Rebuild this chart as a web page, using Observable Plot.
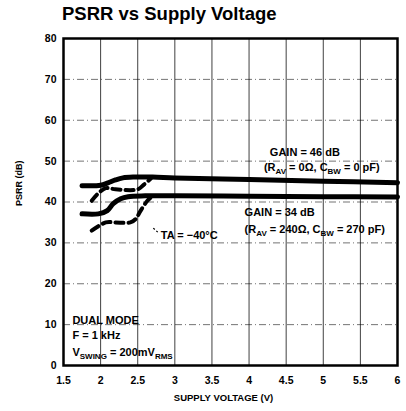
<!DOCTYPE html>
<html>
<head>
<meta charset="utf-8">
<script src="https://cdn.jsdelivr.net/npm/d3@7"></script>
<script src="https://cdn.jsdelivr.net/npm/@observablehq/plot@0.6"></script>
<style>
  html, body { margin: 0; padding: 0; background: #fff; }
  #wrap { position: relative; width: 406px; height: 411px; overflow: hidden; }
  #title { height: 28px; font-family: "Liberation Sans", Arial, sans-serif; font-weight: bold;
           font-size: 18.5px; line-height: 28px; padding-left: 62px; color: #000; }
  svg { display: block; }
</style>
</head>
<body>
<div id="wrap">
  <div id="title">PSRR vs Supply Voltage</div>
  <div id="chart"></div>
</div>
<script>
// ---- data ----
const xTicks = [1.5, 2, 2.5, 3, 3.5, 4, 4.5, 5, 5.5, 6];
const xTickLabels = ["1.5", "2", "2.5", "3", "3.5", "4", "4.5", "5", "5.5", "6"];
const yTicks = [0, 10, 20, 30, 40, 50, 60, 70, 80];

// GAIN = 46 dB, room temperature (solid)
const gain46V   = [1.75, 2.0, 2.1, 2.2, 2.3, 2.45, 2.7, 3.0, 4.0, 5.0, 6.0];
const gain46dB  = [44.0, 44.1, 44.7, 45.4, 45.9, 46.1, 46.1, 45.9, 45.5, 45.1, 44.7];
// GAIN = 34 dB, room temperature (solid)
const gain34V   = [1.75, 1.97, 2.09, 2.17, 2.27, 2.37, 2.6, 3.0, 4.0, 5.0, 6.0];
const gain34dB  = [37.1, 37.1, 37.9, 39.6, 40.8, 41.3, 41.5, 41.5, 41.4, 41.3, 41.2];
// GAIN = 46 dB, TA = -40°C (dashed)
const cold46V   = [1.88, 1.98, 2.07, 2.2, 2.5, 2.58, 2.68];
const cold46dB  = [40.3, 42.3, 43.4, 43.1, 43.1, 44.2, 45.8];
// GAIN = 34 dB, TA = -40°C (dashed)
const cold34V   = [1.88, 2.07, 2.2, 2.4, 2.47, 2.54, 2.63, 2.7];
const cold34dB  = [33.0, 35.0, 35.0, 35.0, 35.8, 37.9, 40.3, 41.4];

// annotations
const noteText = ["GAIN = 46 dB", "(R_{AV} = 0Ω, C_{BW} = 0 pF)", "GAIN = 34 dB",
                  "(R_{AV} = 240Ω, C_{BW} = 270 pF)", "TA = −40°C",
                  "DUAL MODE", "F = 1 kHz", "V_{SWING} = 200mV_{RMS}"];
const noteX = [4.28, 4.2, 3.94, 3.94, 2.81, 1.62, 1.62, 1.62];
const noteY = [52.1, 48.4, 37.4, 33.3, 31.8, 11.0, 7.3, 3.2];
const leaderX = [2.71, 2.79];
const leaderY = [33.6, 32.3];

// ---- build tables ----
const solid = [
  ...gain46V.map((v, i) => ({s: "g46", v, db: gain46dB[i]})),
  ...gain34V.map((v, i) => ({s: "g34", v, db: gain34dB[i]}))
];
const dashed = [
  ...cold46V.map((v, i) => ({s: "c46", v, db: cold46dB[i]})),
  ...cold34V.map((v, i) => ({s: "c34", v, db: cold34dB[i]}))
];
const notes = noteText.map((t, i) => ({t, x: noteX[i], y: noteY[i]}));
const leader = [{x1: leaderX[0], y1: leaderY[0], x2: leaderX[1], y2: leaderY[1]}];

const font = "'Liberation Sans', Arial, sans-serif";

const chart = Plot.plot({
  width: 406,
  height: 383,
  marginTop: 10,
  marginLeft: 63,
  marginRight: 9,
  marginBottom: 46,
  style: {fontFamily: font, fontSize: "10.5px", color: "#000", background: "#fff"},
  x: {domain: [1.5, 6]},
  y: {domain: [0, 80]},
  marks: [
    Plot.gridX(xTicks.slice(1, -1), {stroke: "#000", strokeOpacity: 0.75, strokeWidth: 1}),
    Plot.gridY(yTicks.slice(1, -1), {stroke: "#000", strokeOpacity: 0.55, strokeWidth: 1, strokeDasharray: "7,3,1,3"}),
    Plot.axisX(xTicks, {tickFormat: (d, i) => xTickLabels[i], tickSize: 0, tickPadding: 11,
                        fontWeight: "bold", fontSize: 10.5, label: null}),
    Plot.axisY(yTicks, {tickSize: 0, tickPadding: 7, fontWeight: "bold", fontSize: 10.5, label: null}),
    Plot.text(["SUPPLY VOLTAGE (V)"], {frameAnchor: "bottom", dy: 35, dx: -7, fontWeight: "bold", fontSize: 9.5}),
    Plot.text(["PSRR (dB)"], {frameAnchor: "left", rotate: -90, dx: -44, dy: 4, fontWeight: "bold", fontSize: 9}),
    Plot.line(solid, {x: "v", y: "db", z: "s", stroke: "#000", strokeWidth: 5, curve: "catmull-rom"}),
    Plot.line(dashed, {x: "v", y: "db", z: "s", stroke: "#000", strokeWidth: 4,
                       strokeDasharray: "8,5", curve: "catmull-rom"}),
    Plot.link(leader, {x1: "x1", y1: "y1", x2: "x2", y2: "y2", stroke: "#000", strokeWidth: 1.2, strokeDasharray: "2,2"}),
    Plot.text(notes, {x: "x", y: "y", text: "t", textAnchor: "start", fontWeight: "bold", fontSize: 11}),
    Plot.frame({stroke: "#000", strokeWidth: 2.5})
  ]
});
document.getElementById("chart").appendChild(chart);

// subscripts: turn "_{..}" into lowered, smaller tspans
d3.select(chart).selectAll("text").each(function () {
  const t = this.textContent;
  if (!t.includes("_{")) return;
  const sel = d3.select(this);
  sel.text(null);
  const parts = t.split(/(_\{[^}]*\})/).filter(p => p);
  let lowered = false;
  parts.forEach(p => {
    if (p.startsWith("_{")) {
      sel.append("tspan").attr("font-size", "8px").attr("dy", "3px").text(p.slice(2, -1));
      lowered = true;
    } else {
      const ts = sel.append("tspan").text(p);
      if (lowered) { ts.attr("dy", "-3px"); lowered = false; }
    }
  });
});
</script>
</body>
</html>
